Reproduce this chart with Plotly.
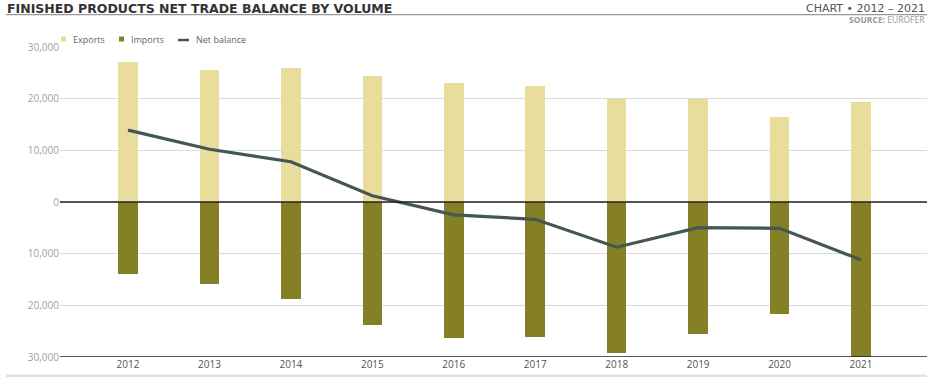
import plotly.graph_objects as go

years = [2012, 2013, 2014, 2015, 2016, 2017, 2018, 2019, 2020, 2021]
exports = [27100, 25500, 26000, 24400, 23100, 22400, 20000, 20000, 16500, 19300]
imports = [13900, 15800, 18700, 23900, 26250, 26200, 29150, 25500, 21700, 30500]
net_balance = [13900, 10200, 7800, 1200, -2500, -3350, -8750, -4950, -5100, -11200]
tick_vals = [-30000, -20000, -10000, 0, 10000, 20000, 30000]
tick_text = ["30,000", "20,000", "10,000", "0", "10,000", "20,000", "30,000"]

EXP_C = "#E9DD9B"
IMP_C = "#857F26"
NET_C = "#465656"

L, R, T, B = 60, 18, 46.5, 22.7
W, H = 945, 380
PW, PH = W - L - R, H - T - B


def px(x):
    return (x - L) / PW


def py(y):
    return (H - B - y) / PH


fig = go.Figure()
fig.add_trace(go.Bar(x=years, y=exports, name="Exports", marker_color=EXP_C,
                     marker_line_width=0, width=0.24, cliponaxis=False))
fig.add_trace(go.Bar(x=years, y=[-v for v in imports], name="Imports", marker_color=IMP_C,
                     marker_line_width=0, width=0.24, cliponaxis=False))
fig.add_trace(go.Scatter(x=years, y=net_balance, name="Net balance", mode="lines",
                         line=dict(color=NET_C, width=3.2)))

fig.update_layout(
    width=W, height=H,
    margin=dict(l=L, r=R, t=T, b=B, autoexpand=False),
    paper_bgcolor="white", plot_bgcolor="white",
    barmode="relative", bargap=0,
    font=dict(family="Open Sans", color="#999999", size=10),
    showlegend=False,
    xaxis=dict(range=[2011.165, 2021.81], tickvals=years, ticktext=[str(y) for y in years],
               showgrid=False, zeroline=False, showline=False, ticks="",
               tickfont=dict(size=10, color="#555555", family="Open Sans")),
    yaxis=dict(range=[-30000, 30000], tickvals=tick_vals, ticktext=tick_text,
               showgrid=True, gridcolor="#DADADA", gridwidth=1, zeroline=False,
               showline=False, ticks="", tickfont=dict(size=10, color="#A0A0A0")),
)

# zero and bottom lines
fig.add_shape(type="line", xref="paper", yref="y", x0=0, x1=1, y0=0, y1=0,
              line=dict(color="#222222", width=1.3))
fig.add_shape(type="line", xref="paper", yref="y", x0=0, x1=1, y0=-30000, y1=-30000,
              line=dict(color="#222222", width=1.3))
# title underline and bottom band
fig.add_shape(type="line", xref="paper", yref="paper", x0=px(6), x1=px(927), y0=py(14), y1=py(14),
              line=dict(color="#999999", width=1.2))
fig.add_shape(type="line", xref="paper", yref="paper", x0=px(6), x1=px(927), y0=py(376), y1=py(376),
              line=dict(color="#E2E2E2", width=2.5))

# custom legend
fig.add_shape(type="rect", xref="paper", yref="paper", x0=px(61), x1=px(66), y0=py(36), y1=py(41),
              fillcolor=EXP_C, line_width=0)
fig.add_shape(type="rect", xref="paper", yref="paper", x0=px(119), x1=px(124), y0=py(36), y1=py(41),
              fillcolor=IMP_C, line_width=0)
fig.add_shape(type="line", xref="paper", yref="paper", x0=px(178), x1=px(189), y0=py(39.5), y1=py(39.5),
              line=dict(color=NET_C, width=2.5))
for label, x0 in [("Exports", 71), ("Imports", 129), ("Net balance", 194)]:
    fig.add_annotation(text=label, xref="paper", yref="paper", x=px(x0), y=py(39),
                       xanchor="left", yanchor="middle", showarrow=False,
                       font=dict(family="Open Sans", size=9, color="#666666"))

fig.add_annotation(text="<b>FINISHED PRODUCTS NET TRADE BALANCE BY VOLUME</b>",
                   xref="paper", yref="paper", x=px(5), y=py(7.5), xanchor="left", yanchor="middle",
                   showarrow=False, font=dict(family="DejaVu Sans", size=12.5, color="#333333"))
fig.add_annotation(text="CHART • 2012 – 2021",
                   xref="paper", yref="paper", x=px(927), y=py(7.5), xanchor="right", yanchor="middle",
                   showarrow=False, font=dict(family="DejaVu Sans", size=11, color="#555555"))
fig.add_annotation(text="<b>SOURCE:</b> EUROFER",
                   xref="paper", yref="paper", x=px(927), y=py(19), xanchor="right", yanchor="middle",
                   showarrow=False, font=dict(family="Open Sans", size=8.5, color="#999999"))

fig.write_html("out.html", config={"displayModeBar": False},
               post_script="document.body.style.margin='0px';")
